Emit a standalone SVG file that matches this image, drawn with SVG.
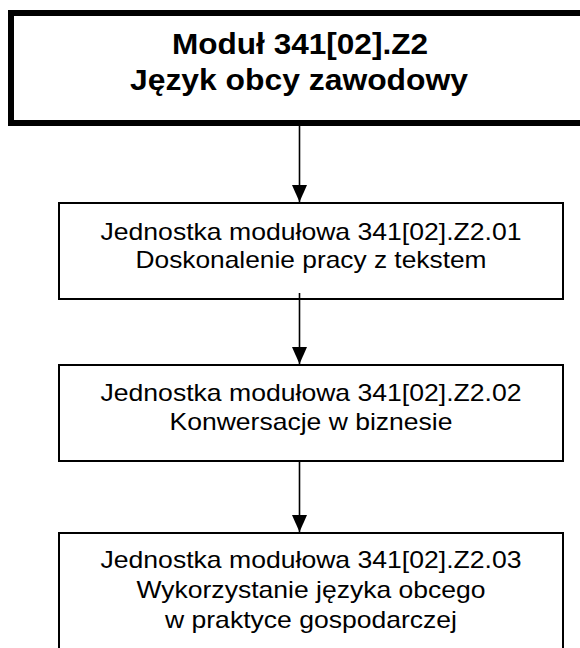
<svg xmlns="http://www.w3.org/2000/svg" width="580" height="648" viewBox="0 0 580 648">
  <style>
    .box { fill: #ffffff; stroke: #000000; stroke-width: 2; }
    .main { fill: #ffffff; stroke: #000000; stroke-width: 6; }
    .t { font-family: "Liberation Sans", Arial, sans-serif; font-size: 24px; fill: #000000; text-anchor: middle; }
    .tb { font-family: "Liberation Sans", Arial, sans-serif; font-size: 29px; font-weight: bold; fill: #000000; text-anchor: middle; }
    .conn { stroke: #000000; stroke-width: 1.6; fill: none; marker-end: url(#ah); }
  </style>
  <defs>
    <marker id="ah" markerUnits="userSpaceOnUse" viewBox="0 0 17 15" markerWidth="17" markerHeight="15" refX="17" refY="7.5" orient="auto">
      <path d="M0,0 L17,7.5 L0,15 Z" fill="#000000"/>
    </marker>
  </defs>
  <rect width="580" height="648" fill="#ffffff"/>

  <g id="node-main">
    <rect class="main" x="11" y="13" width="580" height="110"/>
    <text class="tb" x="300" y="54" textLength="256" lengthAdjust="spacingAndGlyphs">Moduł 341[02].Z2</text>
    <text class="tb" x="299" y="90" textLength="338" lengthAdjust="spacingAndGlyphs">Język obcy zawodowy</text>
  </g>

  <g id="node-z201">
    <rect class="box" x="59" y="203" width="504" height="96"/>
    <text class="t" x="311" y="240" textLength="421" lengthAdjust="spacingAndGlyphs">Jednostka modułowa 341[02].Z2.01</text>
    <text class="t" x="311" y="268" textLength="351" lengthAdjust="spacingAndGlyphs">Doskonalenie pracy z tekstem</text>
  </g>

  <g id="node-z202">
    <rect class="box" x="59" y="365" width="504" height="96"/>
    <text class="t" x="311" y="401" textLength="421" lengthAdjust="spacingAndGlyphs">Jednostka modułowa 341[02].Z2.02</text>
    <text class="t" x="311" y="430" textLength="283" lengthAdjust="spacingAndGlyphs">Konwersacje w biznesie</text>
  </g>

  <g id="node-z203">
    <rect class="box" x="59" y="533" width="504" height="130"/>
    <text class="t" x="311" y="568" textLength="421" lengthAdjust="spacingAndGlyphs">Jednostka modułowa 341[02].Z2.03</text>
    <text class="t" x="311" y="598" textLength="349" lengthAdjust="spacingAndGlyphs">Wykorzystanie języka obcego</text>
    <text class="t" x="311" y="628" textLength="292" lengthAdjust="spacingAndGlyphs">w praktyce gospodarczej</text>
  </g>

  <g id="connectors">
    <line class="conn" x1="299.5" y1="126" x2="299.5" y2="202"/>
    <line class="conn" x1="299.5" y1="293" x2="299.5" y2="364"/>
    <line class="conn" x1="299.5" y1="461" x2="299.5" y2="532"/>
  </g>
</svg>
